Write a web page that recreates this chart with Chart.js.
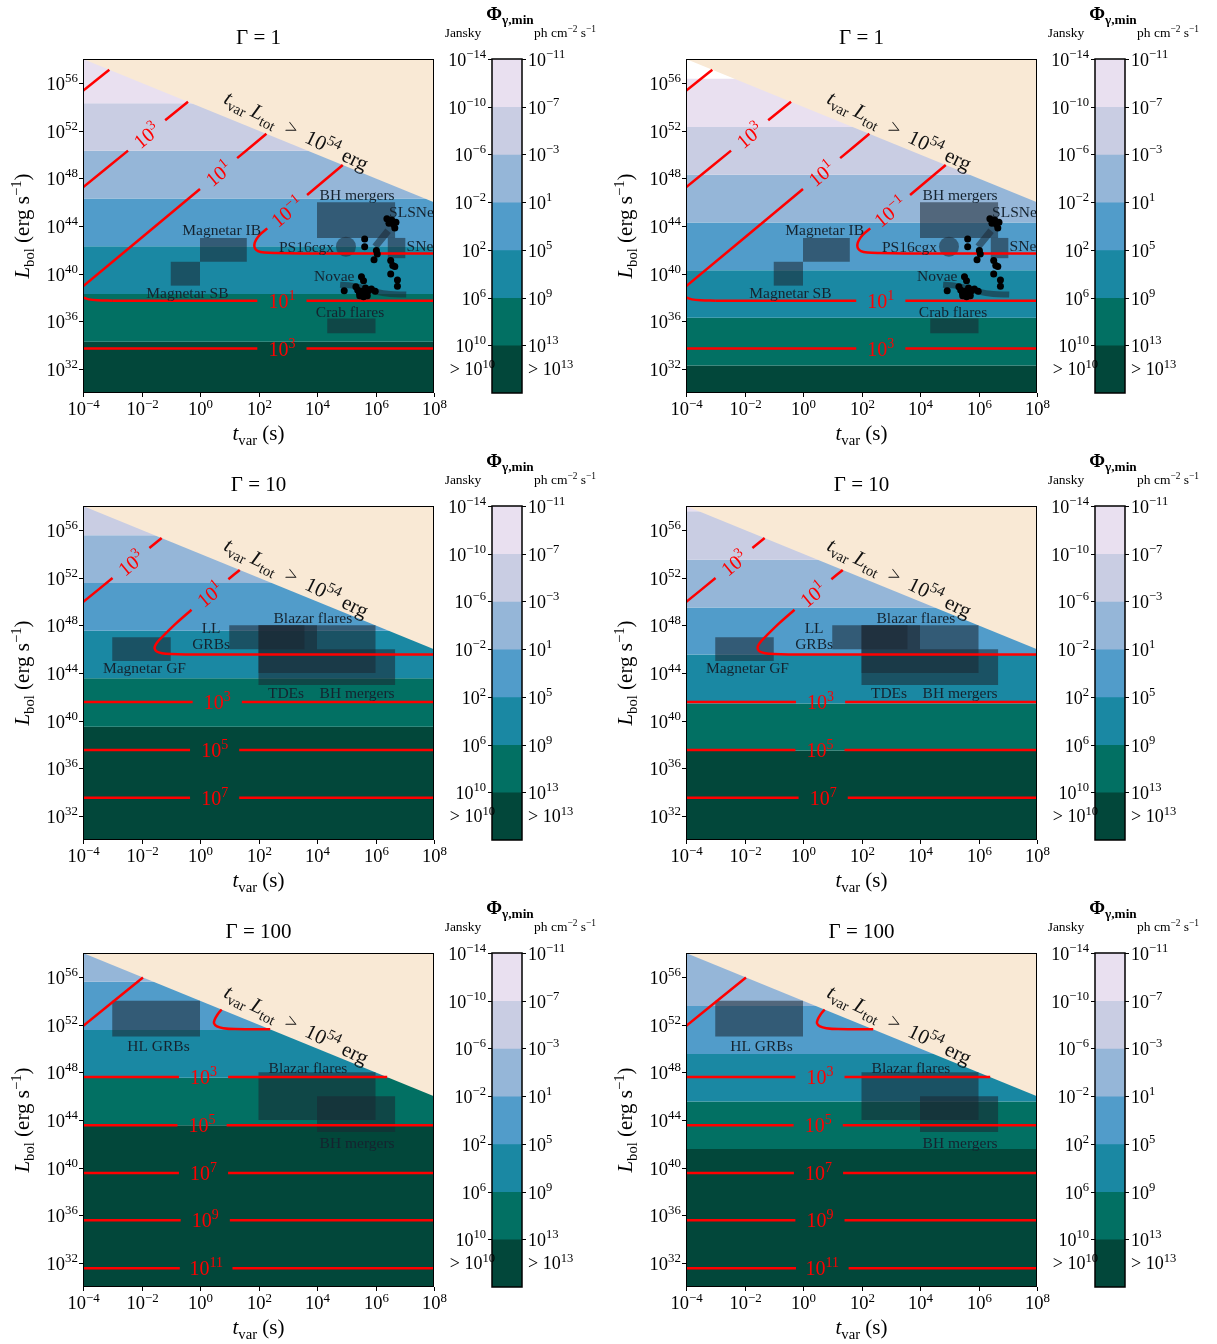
<!DOCTYPE html>
<html>
<head>
<meta charset="utf-8">
<title>Minimum gamma-ray flux</title>
<script src="https://cdn.jsdelivr.net/npm/chart.js@4.4.0/dist/chart.umd.min.js"></script>
<style>
  body { margin: 0; background: #fff; }
  #fig { position: relative; width: 1217px; height: 1344px; overflow: hidden; background: #fff; }
  #fig canvas { position: absolute; }
</style>
</head>
<body>
<div id="fig"></div>
<script>
// everything below is in log10 units (t_var in s, L_bol in erg/s)
const tTicks = [-4, -2, 0, 2, 4, 6, 8];
const lTicks = [32, 36, 40, 44, 48, 52, 56];
const tRange = [-4, 8];
const lRange = [30, 58];
const eCut = 54; // t_var * L_tot > 1e54 erg is excluded

// colourbar levels
const cbJansky = [-14, -10, -6, -2, 2, 6, 10];
const cbPhoton = [-11, -7, -3, 1, 5, 9, 13];
const cbBottom = 14;

// filled bands, log L of every band edge from top to bottom, and colour index of the top band
const edgesG1L = [54.3, 50.3, 46.3, 42.3, 38.3, 34.3];
const edgesG1R = [56.35, 52.3, 48.3, 44.3, 40.3, 36.3, 32.3];
const edgesG10L = [55.55, 51.55, 47.55, 43.55, 39.5];
const edgesG10R = [57.55, 53.5, 49.5, 45.55, 41.45, 37.5];
const edgesG100L = [55.58, 51.55, 47.55, 43.56];
const edgesG100R = [53.56, 49.53, 45.55, 41.57];
const topG1L = 0, topG1R = -1, topG10L = 1, topG10R = 0, topG100L = 2, topG100R = 2;

// source classes: boxes in (log t, log L)
const boxG1T = [[0, 1.6], [-1, 0], [4, 6.67], [6.42, 7.02], [4.35, 6.0]];
const boxG1L = [[41, 43], [39, 41], [43, 46], [41.3, 43], [35, 36.25]];
const boxG10T = [[-3, -1], [1, 3.57], [2, 6], [2, 4], [4, 6.67]];
const boxG10L = [[45, 47], [46, 48], [44, 48], [43, 48], [43, 46]];
const boxG100T = [[-3, 0], [2, 6], [4, 6.67]];
const boxG100L = [[51, 54], [44, 48], [43, 46]];

// SLSNe / Novae tracks, PS16cgx and the individual events (Gamma = 1)
const slsneTrack = [[5.99, 42.27], [6.43, 43.6]];
const novaeTrack = [[4.79, 39.08], [5.2, 39.0], [5.6, 38.8], [6.0, 38.5], [6.5, 38.3], [7.05, 38.25]];
const ps16cgx = [4.99, 42.27];
const eventT = [6.39, 6.52, 6.70, 6.46, 6.62, 6.66, 6.55, 5.63, 5.63, 6.03, 6.06, 5.95, 6.52, 6.59, 6.66,
  6.52, 6.75, 6.75, 5.52, 5.59, 5.33, 5.39, 5.52, 5.66, 5.76, 5.86, 5.99, 5.46, 5.59, 5.72, 4.93, 5.45, 5.65];
const eventL = [44.6, 44.46, 44.32, 44.24, 44.12, 43.84, 44.5, 42.92, 42.27, 41.94, 41.66, 41.18, 41.1, 40.68, 40.6,
  39.98, 39.47, 38.94, 39.75, 39.42, 38.91, 38.63, 38.52, 38.8, 38.58, 38.72, 38.52, 38.16, 38.07, 38.16, 38.58, 38.4, 38.35];

// source labels
const txtG1 = ['BH mergers', 'SLSNe', 'Magnetar IB', 'PS16cgx', 'SNe', 'Novae', 'Magnetar SB', 'Crab flares'];
const txtG1T = [5.37, 7.23, 0.74, 3.64, 7.52, 4.59, -0.43, 5.13];
const txtG1L = [46.62, 45.16, 43.67, 42.27, 42.3, 39.78, 38.38, 36.81];
const txtG10 = ['LL', 'GRBs', 'Blazar flares', 'Magnetar GF', 'TDEs', 'BH mergers'];
const txtG10T = [0.38, 0.38, 3.86, -1.9, 2.94, 5.37];
const txtG10L = [47.76, 46.44, 48.6, 44.45, 42.29, 42.29];
const txtG100 = ['HL GRBs', 'Blazar flares', 'BH mergers'];
const txtG100T = [-1.42, 3.69, 5.37];
const txtG100L = [50.23, 48.38, 42.05];

// contours of the minimum flux: curved / diagonal pieces
const curvesG1 = [
  [[-4, 55.33], [-3.1, 57.1]],
  [[-4, 47.24], [-2.46, 50.32]], [[-1.19, 52.86], [-0.41, 54.41]],
  [[-4, 38.94], [0.0, 47.1]], [[1.27, 49.69], [2.27, 51.73]],
  [[4.88, 49.12], [3.66, 46.6]],
  [[2.3, 43.8], [2.05, 43.28], [1.92, 42.85], [1.86, 42.45], [1.88, 42.12], [1.98, 41.9], [2.2, 41.78], [2.6, 41.73], [3.5, 41.7], [8, 41.7]],
  [[-4, 38.02], [-3.8, 37.85], [-3.5, 37.77], [-3.0, 37.74]]
];
const curvesG10 = [
  [[-4, 49.94], [-2.99, 51.96]], [[-1.73, 54.48], [-1.31, 55.31]],
  [[1.36, 52.64], [0.97, 51.86]],
  [[-0.29, 49.3], [-0.8, 48.2], [-1.2, 47.25], [-1.42, 46.7], [-1.53, 46.3], [-1.55, 46.05], [-1.48, 45.8], [-1.3, 45.66], [-1.0, 45.59], [-0.5, 45.56], [8, 45.56]]
];
const curvesG100 = [
  [[-4, 51.88], [-1.95, 55.95]],
  [[0.74, 53.26], [0.6, 52.85], [0.5, 52.4], [0.48, 52.1], [0.58, 51.85], [0.8, 51.7], [1.2, 51.62], [2.4, 51.6]]
];
// labels on the diagonal contours: exponent, log t, log L
const diagExpG1 = [3, 1, -1];
const diagTG1 = [-1.825, 0.635, 2.98];
const diagLG1 = [51.59, 48.4, 45.2];
const diagExpG10 = [3, 1];
const diagTG10 = [-2.36, 0.34];
const diagLG10 = [53.22, 50.6];

// horizontal contours: exponent, log L, where the line starts, label position (left / right column)
const flatExpG1 = [1, 3];
const flatLG1 = [37.74, 33.73];
const flatStartG1 = [-3.0, -4];
const flatLabelG1L = [2.8, 2.8];
const flatLabelG1R = [2.66, 2.66];
const flatExpG10 = [3, 5, 7];
const flatLG10 = [41.56, 37.55, 33.54];
const flatLabelG10L = [0.59, 0.5, 0.5];
const flatLabelG10R = [0.6, 0.58, 0.69];
const flatExpG100 = [3, 5, 7, 9, 11];
const flatLG100 = [47.6, 43.57, 39.56, 35.59, 31.58];
const flatLabelG100L = [0.12, 0.07, 0.12, 0.18, 0.21];
const flatLabelG100R = [0.58, 0.52, 0.53, 0.58, 0.66];

// ---- styles ----
const bandColors = ['#e9e0f0', '#c9cde3', '#95b6d8', '#519cca', '#1a88a3', '#027063', '#02473a'];
const beige = '#f9e9d5';
const boxColor = 'rgba(28,38,50,0.55)';
const labelColor = '#15232f';
const SERIF = '"Liberation Serif", "DejaVu Serif", serif';

const G = {
  '1': {boxT: boxG1T, boxL: boxG1L, txt: txtG1, txtT: txtG1T, txtL: txtG1L, curves: curvesG1,
    diagExp: diagExpG1, diagT: diagTG1, diagL: diagLG1, flatExp: flatExpG1, flatL: flatLG1, flatStart: flatStartG1, events: true},
  '10': {boxT: boxG10T, boxL: boxG10L, txt: txtG10, txtT: txtG10T, txtL: txtG10L, curves: curvesG10,
    diagExp: diagExpG10, diagT: diagTG10, diagL: diagLG10, flatExp: flatExpG10, flatL: flatLG10, flatStart: null, events: false},
  '100': {boxT: boxG100T, boxL: boxG100L, txt: txtG100, txtT: txtG100T, txtL: txtG100L, curves: curvesG100,
    diagExp: [], diagT: [], diagL: [], flatExp: flatExpG100, flatL: flatLG100, flatStart: null, events: false}
};

const panels = [
  {g: '1', col: 0, row: 0, edges: edgesG1L, top: topG1L, flatLabel: flatLabelG1L},
  {g: '1', col: 1, row: 0, edges: edgesG1R, top: topG1R, flatLabel: flatLabelG1R},
  {g: '10', col: 0, row: 1, edges: edgesG10L, top: topG10L, flatLabel: flatLabelG10L},
  {g: '10', col: 1, row: 1, edges: edgesG10R, top: topG10R, flatLabel: flatLabelG10R},
  {g: '100', col: 0, row: 2, edges: edgesG100L, top: topG100L, flatLabel: flatLabelG100L},
  {g: '100', col: 1, row: 2, edges: edgesG100R, top: topG100R, flatLabel: flatLabelG100R}
];
const colX = [0, 603];
const rowY = [0, 447, 894];

const L = v => Math.pow(10, v);
const P = a => ({x: L(a[0]), y: L(a[1])});
const gapHalf = e => (e >= 10 ? 0.9 : 0.84);

// ---- text helpers (mathtext-like) ----
function fontOf(st, size) {
  const small = st.endsWith('sub') || st.endsWith('sup');
  const s = small ? size * 0.7 : size;
  return (st === 'i' ? 'italic ' : '') + (st[0] === 'b' ? 'bold ' : '') + s.toFixed(1) + 'px ' + SERIF;
}
function richWidth(ctx, parts, size) {
  let w = 0;
  for (const [t, st] of parts) { ctx.font = fontOf(st, size); w += ctx.measureText(t).width; }
  return w;
}
function drawRich(ctx, parts, x, y, size, align, color) {
  const w = richWidth(ctx, parts, size);
  let cx = align === 'center' ? x - w / 2 : (align === 'right' ? x - w : x);
  ctx.fillStyle = color || '#000';
  ctx.textAlign = 'left';
  ctx.textBaseline = 'alphabetic';
  for (const [t, st] of parts) {
    ctx.font = fontOf(st, size);
    const dy = st.endsWith('sub') ? size * 0.22 : (st.endsWith('sup') ? -size * 0.4 : 0);
    ctx.fillText(t, cx, y + dy);
    cx += ctx.measureText(t).width;
  }
}
const powParts = e => [['10', 'n'], [e < 0 ? '\u2212' + (-e) : String(e), 'sup']];

// ---- datasets ----
function polyDs(pts, color, order) {
  return {type: 'line', data: pts.map(P), fill: 'shape', backgroundColor: color, borderColor: 'rgba(0,0,0,0)',
    borderWidth: 0, pointRadius: 0, tension: 0, order: order};
}
function lineDs(pts, color, width, order) {
  return {type: 'line', data: pts.map(P), fill: false, borderColor: color, borderWidth: width,
    pointRadius: 0, tension: 0.35, borderCapStyle: 'butt', order: order};
}

function buildDatasets(p) {
  const g = G[p.g];
  const ds = [];
  for (let i = 0; i <= p.edges.length; i++) {
    const hi = i === 0 ? lRange[1] : p.edges[i - 1];
    const lo = i === p.edges.length ? lRange[0] : p.edges[i];
    const ci = p.top + i;
    if (ci < 0) continue;
    ds.push(polyDs([[tRange[0], lo], [tRange[1], lo], [tRange[1], hi], [tRange[0], hi]], bandColors[ci], 20));
  }
  ds.push(polyDs([[tRange[0], eCut - tRange[0]], [tRange[1], eCut - tRange[1]], [tRange[1], lRange[1]], [tRange[0], lRange[1]]], beige, 19));
  g.boxT.forEach((bt, i) => {
    const bl = g.boxL[i];
    ds.push(polyDs([[bt[0], bl[0]], [bt[1], bl[0]], [bt[1], bl[1]], [bt[0], bl[1]]], boxColor, 18));
  });
  if (g.events) {
    ds.push(lineDs(slsneTrack, boxColor, 7, 17));
    ds.push(lineDs(novaeTrack, boxColor, 6, 17));
    ds.push({type: 'scatter', data: [P(ps16cgx)], pointRadius: 10, backgroundColor: boxColor, borderWidth: 0, order: 17});
  }
  g.curves.forEach(c => ds.push(lineDs(c, '#ff0000', 2.5, 10)));
  g.flatExp.forEach((e, j) => {
    const y = g.flatL[j];
    const x0 = g.flatStart ? g.flatStart[j] : tRange[0];
    const lx = p.flatLabel[j];
    ds.push(lineDs([[x0, y], [lx - gapHalf(e), y]], '#ff0000', 2.5, 10));
    ds.push(lineDs([[lx + gapHalf(e), y], [Math.min(tRange[1], eCut - y), y]], '#ff0000', 2.5, 10));
  });
  if (g.events) {
    ds.push({type: 'scatter', data: eventT.map((t, i) => P([t, eventL[i]])), pointRadius: 3.5,
      backgroundColor: '#000', borderWidth: 0, order: 1});
  }
  return ds;
}

// ---- decorations for the main panels ----
const deco = {
  id: 'deco',
  afterDatasetsDraw(chart, args, o) {
    const p = o.panel, g = G[p.g];
    const ctx = chart.ctx, a = chart.chartArea;
    const xs = chart.scales.x, ys = chart.scales.y;
    const px = v => xs.getPixelForValue(L(v));
    const py = v => ys.getPixelForValue(L(v));
    ctx.save();
    ctx.beginPath();
    ctx.rect(a.left, a.top, a.right - a.left, a.bottom - a.top);
    ctx.clip();
    // source labels
    g.txt.forEach((t, i) => drawRich(ctx, [[t, 'n']], px(g.txtT[i]), py(g.txtL[i]) + 5, 15.5, 'center', labelColor));
    // contour labels on diagonals
    g.diagExp.forEach((e, i) => {
      const x = px(g.diagT[i]), y = py(g.diagL[i]);
      const ang = Math.atan2(py(g.diagL[i] + 2) - y, px(g.diagT[i] + 1) - x);
      ctx.save();
      ctx.translate(x, y);
      ctx.rotate(ang);
      drawRich(ctx, powParts(e), 0, 7, 20, 'center', '#ff0000');
      ctx.restore();
    });
    // contour labels on horizontal lines
    g.flatExp.forEach((e, j) => drawRich(ctx, powParts(e), px(p.flatLabel[j]), py(g.flatL[j]) + 7, 20, 'center', '#ff0000'));
    // energy limit annotation
    ctx.save();
    ctx.translate(px(3.3), py(52.0));
    ctx.rotate(26 * Math.PI / 180);
    drawRich(ctx, [['t', 'i'], ['var', 'sub'], [' ', 'n'], ['L', 'i'], ['tot', 'sub'], ['  >  10', 'n'], ['54', 'sup'], [' erg', 'n']],
      0, 7, 21, 'center', '#111');
    ctx.restore();
    ctx.restore();
  },
  afterDraw(chart, args, o) {
    const p = o.panel;
    const ctx = chart.ctx, a = chart.chartArea;
    const xs = chart.scales.x, ys = chart.scales.y;
    ctx.save();
    ctx.strokeStyle = '#000';
    ctx.lineWidth = 1;
    ctx.strokeRect(a.left + 0.5, a.top + 0.5, a.right - a.left - 1, a.bottom - a.top - 1);
    tTicks.forEach(e => {
      const x = Math.round(xs.getPixelForValue(L(e))) + 0.5;
      ctx.beginPath(); ctx.moveTo(x, a.bottom); ctx.lineTo(x, a.bottom + 4); ctx.stroke();
      drawRich(ctx, powParts(e), x, a.bottom + 22, 18.5, 'center', '#000');
    });
    lTicks.forEach(e => {
      const y = Math.round(ys.getPixelForValue(L(e))) + 0.5;
      ctx.beginPath(); ctx.moveTo(a.left - 4, y); ctx.lineTo(a.left, y); ctx.stroke();
      drawRich(ctx, powParts(e), a.left - 5, y + 6, 18.5, 'right', '#000');
    });
    const cx = (a.left + a.right) / 2;
    drawRich(ctx, [['\u0393 = ' + p.g, 'n']], cx, a.top - 15, 21, 'center', '#000');
    drawRich(ctx, [['t', 'i'], ['var', 'sub'], [' (s)', 'n']], cx, a.bottom + 47, 21, 'center', '#000');
    ctx.save();
    ctx.translate(29, (a.top + a.bottom) / 2);
    ctx.rotate(-Math.PI / 2);
    drawRich(ctx, [['L', 'i'], ['bol', 'sub'], [' (erg s', 'n'], ['\u22121', 'sup'], [')', 'n']], 0, 0, 21, 'center', '#000');
    ctx.restore();
    ctx.restore();
  }
};

// ---- colourbar decorations ----
const cbDeco = {
  id: 'cbDeco',
  afterDraw(chart) {
    const ctx = chart.ctx, a = chart.chartArea, ys = chart.scales.y;
    ctx.save();
    ctx.strokeStyle = '#000';
    ctx.lineWidth = 1.5;
    ctx.strokeRect(a.left, a.top, a.right - a.left, a.bottom - a.top);
    ctx.lineWidth = 1;
    cbJansky.forEach((e, i) => {
      const y = Math.round(ys.getPixelForValue(L(e))) + 0.5;
      ctx.beginPath();
      ctx.moveTo(a.left - 4, y); ctx.lineTo(a.left, y);
      ctx.moveTo(a.right, y); ctx.lineTo(a.right + 4, y);
      ctx.stroke();
      drawRich(ctx, powParts(e), a.left - 6, y + 6, 18, 'right', '#000');
      drawRich(ctx, powParts(cbPhoton[i]), a.right + 6, y + 6, 18, 'left', '#000');
    });
    const ym = ys.getPixelForValue(L((cbJansky[cbJansky.length - 1] + cbBottom) / 2));
    drawRich(ctx, [['> 10', 'n'], [String(cbJansky[cbJansky.length - 1]), 'sup']], a.left + 3, ym + 6, 18, 'right', '#000');
    drawRich(ctx, [['> 10', 'n'], [String(cbPhoton[cbPhoton.length - 1]), 'sup']], a.right + 6, ym + 6, 18, 'left', '#000');
    const mid = (a.left + a.right) / 2;
    drawRich(ctx, [['\u03A6', 'b'], ['\u03B3,min', 'bsub']], mid + 3, a.top - 39, 19, 'center', '#000');
    drawRich(ctx, [['Jansky', 'n']], a.left - 29, a.top - 22, 13.5, 'center', '#000');
    drawRich(ctx, [['ph cm', 'n'], ['\u22122', 'sup'], [' s', 'n'], ['\u22121', 'sup']], a.right + 43, a.top - 22, 13.5, 'center', '#000');
    ctx.restore();
  }
};

function makeCanvas(x, y, w, h) {
  const c = document.createElement('canvas');
  c.width = w; c.height = h;
  c.style.left = x + 'px'; c.style.top = y + 'px';
  c.style.width = w + 'px'; c.style.height = h + 'px';
  document.getElementById('fig').appendChild(c);
  return c;
}

panels.forEach(p => {
  const ox = colX[p.col], oy = rowY[p.row];
  new Chart(makeCanvas(ox, oy, 460, 445), {
    type: 'line',
    data: {datasets: buildDatasets(p)},
    options: {
      responsive: false, animation: false, events: [],
      layout: {padding: {left: 83, top: 59, right: 26, bottom: 52}},
      scales: {
        x: {type: 'logarithmic', min: L(tRange[0]), max: L(tRange[1]), display: false},
        y: {type: 'logarithmic', min: L(lRange[0]), max: L(lRange[1]), display: false}
      },
      plugins: {legend: {display: false}, tooltip: {enabled: false}, deco: {panel: p}}
    },
    plugins: [deco]
  });

  const cbSets = cbJansky.map((e, i) => ({
    data: [[L(e), L(i + 1 < cbJansky.length ? cbJansky[i + 1] : cbBottom)]],
    backgroundColor: bandColors[i], borderWidth: 0, grouped: false,
    barPercentage: 1, categoryPercentage: 1
  }));
  new Chart(makeCanvas(ox + 440, oy, 163, 445), {
    type: 'bar',
    data: {labels: [''], datasets: cbSets},
    options: {
      responsive: false, animation: false, events: [],
      layout: {padding: {left: 52, top: 59, right: 81, bottom: 52}},
      scales: {
        x: {display: false},
        y: {type: 'logarithmic', min: L(cbJansky[0]), max: L(cbBottom), reverse: true, display: false}
      },
      plugins: {legend: {display: false}, tooltip: {enabled: false}}
    },
    plugins: [cbDeco]
  });
});
</script>
</body>
</html>
